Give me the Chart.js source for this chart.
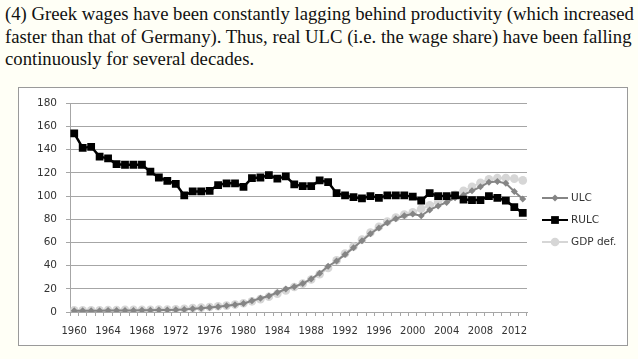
<!DOCTYPE html>
<html>
<head>
<meta charset="utf-8">
<script src="https://cdn.jsdelivr.net/npm/chart.js@4"></script>
<style>
    html, body { margin: 0; padding: 0; width: 638px; height: 359px; overflow: hidden; background: #fffff6; }
    .caption { position: absolute; left: 5px; top: 3px; font-family: "Liberation Serif", serif; font-size: 18.7px; line-height: 22.5px; color: #111; white-space: nowrap; }
    .box { position: absolute; left: 18px; top: 87px; width: 608px; height: 257px; background: #fff; border: 1px solid #9a9a9a; }
</style>
</head>
<body>
<div class="caption">
    <div>(4) Greek wages have been constantly lagging behind productivity (which increased</div>
    <div>faster than that of Germany). Thus, real ULC (i.e. the wage share) have been falling</div>
    <div>continuously for several decades.</div>
</div>
<div class="box"><canvas id="chart" width="608" height="257"></canvas></div>
<script>
(function () {

    var years = [];
    for (var y = 1960; y <= 2013; y++) years.push(String(y));

    var ulc = [
        1.0, 1.0, 1.1, 1.1, 1.2, 1.3, 1.4, 1.4, 1.5, 1.5,
        1.7, 1.8, 1.9, 2.2, 2.8, 3.2, 3.8, 4.6, 5.4, 6.3,
        7.4, 9.6, 11.8, 13.8, 16.8, 19.8, 21.8, 24.5, 28.5, 33.5,
        39.5, 44, 49.5, 55.5, 61.5, 67.5, 72.5, 77, 80.5, 83,
        84.5, 83, 88, 91.5, 94.5, 98.5, 101, 104.5, 108, 112,
        112.5, 111, 104, 97.5
    ];

    var rulc = [
        154, 141.5, 142.5, 134, 132.5, 127.5, 127, 127, 127, 121,
        116, 113, 110.5, 100.5, 104, 104, 104.5, 109.5, 111, 111,
        108, 115.5, 116, 118, 115, 117, 110, 108.5, 108.5, 113.5,
        112, 102.5, 100.5, 99, 98, 100, 98.5, 100.5, 100.5, 100.5,
        99.5, 96, 102.5, 100, 100, 100.5, 97, 96.5, 96.5, 100,
        98.5, 96, 90.5, 85.5
    ];

    var gdpDef = [
        1.4, 1.4, 1.5, 1.5, 1.6, 1.7, 1.8, 1.8, 1.9, 2.0,
        2.1, 2.2, 2.4, 2.8, 3.4, 3.8, 4.3, 4.9, 5.5, 6.4,
        7.6, 9.2, 11.1, 13.1, 15.8, 18.6, 21.5, 24.5, 28, 32.5,
        38, 44.5, 50.5, 56.5, 62.5, 68.5, 73.5, 78, 81.5, 84,
        86, 89, 92, 95, 98, 101, 104.5, 108, 111.5, 114.5,
        115.5, 115.5, 115, 113.5
    ];

    var FAMILY = "'DejaVu Sans', Verdana, sans-serif";
    var TEXT = '#333';
    var GRID = '#a6a6a6';

    // legend drawn by hand: line with the marker in its middle, as in Excel
    var sideLegend = {
        id: 'sideLegend',
        afterDraw: function (chart) {
            var ctx = chart.ctx;
            var x0 = chart.chartArea.right + 15;
            var top = 110, gap = 22;
            ctx.save();
            chart.data.datasets.forEach(function (ds, i) {
                var y = top + i * gap;
                var xm = x0 + 13;
                ctx.strokeStyle = ds.borderColor;
                ctx.lineWidth = 2;
                ctx.beginPath();
                ctx.moveTo(x0, y);
                ctx.lineTo(x0 + 26, y);
                ctx.stroke();
                ctx.fillStyle = ds.pointBackgroundColor;
                var r = ds.pointRadius;
                ctx.beginPath();
                if (ds.pointStyle === 'rect') {
                    var s = r * Math.SQRT1_2;
                    ctx.rect(xm - s, y - s, 2 * s, 2 * s);
                } else if (ds.pointStyle === 'rectRot') {
                    ctx.moveTo(xm, y - r); ctx.lineTo(xm + r, y);
                    ctx.lineTo(xm, y + r); ctx.lineTo(xm - r, y);
                    ctx.closePath();
                } else {
                    ctx.arc(xm, y, r, 0, Math.PI * 2);
                }
                ctx.fill();
                ctx.fillStyle = TEXT;
                ctx.font = '10.5px ' + FAMILY;
                ctx.textBaseline = 'middle';
                ctx.fillText(ds.label, x0 + 29, y);
            });
            ctx.restore();
        }
    };

    new Chart(document.getElementById('chart'), {
        type: 'line',
        data: {
            labels: years,
            datasets: [
                {
                    label: 'ULC', data: ulc, order: 1,
                    borderColor: '#858585', borderWidth: 2,
                    pointStyle: 'rectRot', pointRadius: 3.5,
                    pointBackgroundColor: '#858585', pointBorderColor: '#858585', pointBorderWidth: 0
                },
                {
                    label: 'RULC', data: rulc, order: 0,
                    borderColor: '#000', borderWidth: 2.5,
                    pointStyle: 'rect', pointRadius: 5.5,
                    pointBackgroundColor: '#000', pointBorderColor: '#000', pointBorderWidth: 0
                },
                {
                    label: 'GDP def.', data: gdpDef, order: 2,
                    borderColor: '#d6d6d6', borderWidth: 2,
                    pointStyle: 'circle', pointRadius: 4.3,
                    pointBackgroundColor: '#d6d6d6', pointBorderColor: '#d6d6d6', pointBorderWidth: 0
                }
            ]
        },
        options: {
            responsive: false,
            animation: false,
            layout: { padding: { top: 13, right: 100, left: 0, bottom: 0 } },
            plugins: { legend: { display: false }, tooltip: { enabled: false } },
            scales: {
                x: {
                    offset: true,
                    afterFit: function (s) { s.height = 33; },
                    grid: { offset: true, drawOnChartArea: false, drawTicks: true, tickLength: 4, color: GRID },
                    border: { color: GRID },
                    ticks: {
                        autoSkip: false, maxRotation: 0, padding: 9,
                        color: TEXT, font: { family: FAMILY, size: 10 },
                        callback: function (v, i) { return i % 4 === 0 ? years[i] : ''; }
                    }
                },
                y: {
                    min: 0, max: 180,
                    afterFit: function (s) { s.width = 51; },
                    grid: { color: GRID, tickLength: 4 },
                    border: { color: GRID },
                    ticks: { stepSize: 20, padding: 9, color: TEXT, font: { family: FAMILY, size: 10.5 } }
                }
            }
        },
        plugins: [sideLegend]
    });
})();
</script>
</body>
</html>
